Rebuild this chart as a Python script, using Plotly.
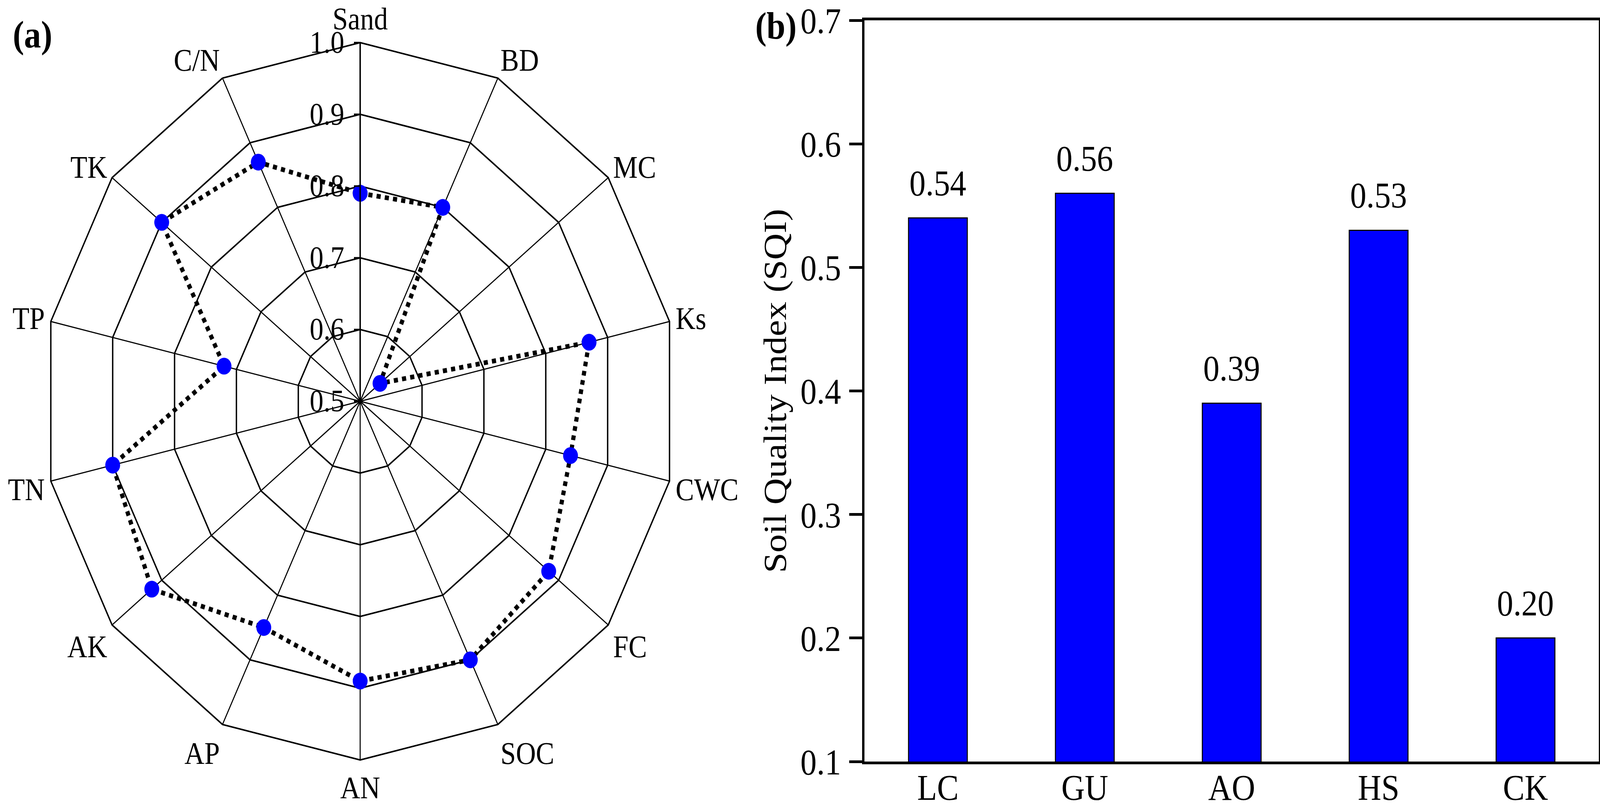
"""Radar of normalised soil indicators (a) and SQI bars per treatment (b)."""
import plotly.graph_objects as go

# (a) indicator scores, clockwise from the top
indicators = ["Sand", "BD", "MC", "Ks", "CWC", "FC", "SOC",
              "AN", "AP", "AK", "TN", "TP", "TK", "C/N"]
scores = [0.79, 0.80, 0.54, 0.87, 0.84, 0.88, 0.90,
          0.89, 0.85, 0.92, 0.90, 0.72, 0.90, 0.87]
radial_ticks = [0.5, 0.6, 0.7, 0.8, 0.9, 1.0]

# (b) soil quality index per treatment
treatments = ["LC", "GU", "AO", "HS", "CK"]
sqi = [0.54, 0.56, 0.39, 0.53, 0.20]
sqi_ticks = [0.1, 0.2, 0.3, 0.4, 0.5, 0.6, 0.7]

W, H = 4629, 2073
FONT = "Liberation Serif"

fig = go.Figure()

fig.add_trace(go.Scatterpolar(
    r=scores + scores[:1],
    theta=indicators + indicators[:1],
    mode="lines+markers",
    line=dict(color="black", width=12, dash="dot"),
    marker=dict(color="#0000ff", size=43, line=dict(width=0)),
    showlegend=False,
))

fig.add_trace(go.Bar(
    x=treatments, y=sqi,
    width=0.4,
    marker=dict(color="#0000ff", line=dict(color="black", width=3)),
    showlegend=False,
    xaxis="x", yaxis="y",
))

# value labels above bars
for t, v in zip(treatments, sqi):
    fig.add_annotation(
        x=t, y=v, xref="x", yref="y", text=f"{v:.2f}",
        showarrow=False, yanchor="bottom", yshift=36,
        font=dict(family=FONT, size=94, color="black"),
    )

# panel letters
for txt, px, py in [("(a)", 94, 88), ("(b)", 2245, 66)]:
    fig.add_annotation(x=px / W, y=1 - py / H, xref="paper", yref="paper",
                       xanchor="center", yanchor="middle",
                       text=f"<b>{txt}</b>", showarrow=False,
                       font=dict(family=FONT, size=98, color="black"))

cx, cy, R = 1042, 1046, 918  # radar centre (from bottom) and radius, px
fig.update_layout(
    width=W, height=H,
    margin=dict(l=0, r=0, t=0, b=0),
    paper_bgcolor="white", plot_bgcolor="white",
    font=dict(family=FONT, color="black"),
    polar=dict(
        domain=dict(x=[(cx - R) / W, (cx + R) / W], y=[(cy - R) / H, (cy + R) / H]),
        bgcolor="white",
        gridshape="linear",
        angularaxis=dict(
            direction="clockwise", rotation=90,
            showline=True, linecolor="black", linewidth=4,
            showgrid=True, gridcolor="black", gridwidth=3,
            ticks="", tickfont=dict(family=FONT, size=80, color="black"),
        ),
        radialaxis=dict(
            range=[0.5, 1.0], tickvals=radial_ticks, tickformat=".1f",
            angle=90, side="counterclockwise", tickangle=90,
            showline=True, linecolor="black", linewidth=4,
            showgrid=True, gridcolor="black", gridwidth=4,
            ticks="outside", ticklen=16, tickwidth=4, tickcolor="black",
            tickfont=dict(family=FONT, size=80, color="black"),
        ),
    ),
    xaxis=dict(
        domain=[2501 / W, 4626 / W], range=[-0.5, 4.5],
        showline=True, linecolor="black", linewidth=7, mirror=True,
        ticks="", ticklen=0, showgrid=False, zeroline=False,
        tickfont=dict(family=FONT, size=94, color="black"),
        ticklabelstandoff=-22, automargin=False,
    ),
    yaxis=dict(
        domain=[1 - 1949 / H, 1 - 52 / H], range=[0.1, 0.7],
        tickvals=sqi_ticks, tickformat=".1f",
        showline=True, linecolor="black", linewidth=7, mirror=True,
        ticks="outside", ticklen=37, tickwidth=7, tickcolor="black",
        showgrid=False, zeroline=False,
        tickfont=dict(family=FONT, size=94, color="black"),
        ticklabelstandoff=5,
        title=dict(text="Soil Quality Index (SQI)", standoff=12,
                   font=dict(family=FONT, size=94, color="black")),
        automargin=False,
    ),
)

# the browser may give us a narrower viewport than the figure; squeeze to fit
fit_to_window = """
document.documentElement.style.overflow = 'hidden';
document.body.style.margin = '0';
document.body.style.overflow = 'hidden';
var gd = document.getElementById('{plot_id}');
var s = window.innerWidth / %d;
if (s < 1) {
  gd.style.transformOrigin = '0 0';
  gd.style.transform = 'scaleX(' + s + ')';
}
""" % W
fig.write_html("out.html", post_script=fit_to_window,
               config={"displayModeBar": False})
